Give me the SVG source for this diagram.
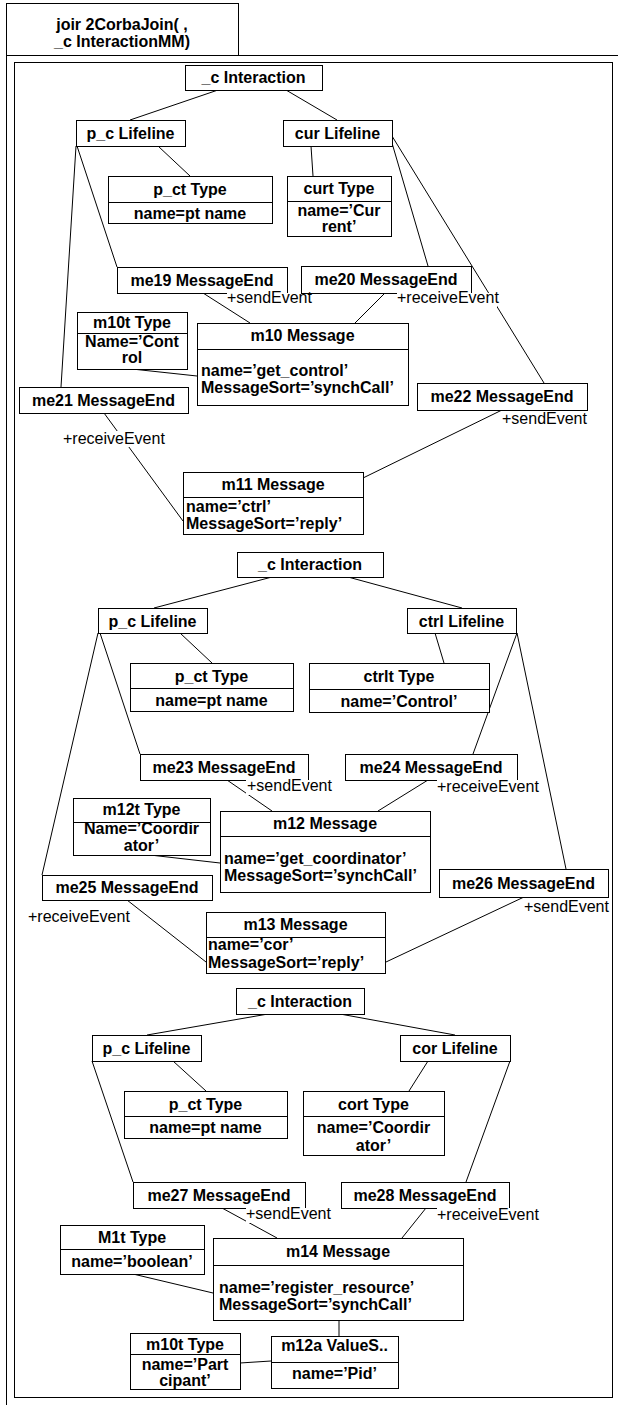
<svg xmlns="http://www.w3.org/2000/svg" width="618" height="1405" viewBox="0 0 618 1405">
<style>
.b{fill:#fff;stroke:#000;stroke-width:1}
.d{stroke:#000;stroke-width:1}
text{font-family:"Liberation Sans",Arial,sans-serif;font-size:16px;fill:#000}
.h{font-weight:bold;text-anchor:middle}
.a{font-weight:bold}
.l{font-weight:normal}
#connectors line{stroke:#000;stroke-width:1}
.bg{fill:#fff}
</style>
<rect x="0" y="0" width="618" height="1405" fill="#fff"/>
<g id="frame">
<rect x="6.5" y="55.5" width="700" height="1400" fill="none" stroke="#000"/>
<rect x="6.5" y="3.5" width="232" height="52" class="b"/>
<text class="h" x="122" y="30">joir 2CorbaJoin( ,</text>
<text class="h" x="122" y="47">_c InteractionMM)</text>
<rect x="14.5" y="62.5" width="598" height="1335" fill="none" stroke="#000"/>
</g>
<g id="connectors">
<line x1="218" y1="90" x2="130" y2="120"/>
<line x1="286" y1="90" x2="337" y2="120"/>
<line x1="158" y1="146" x2="190" y2="176"/>
<line x1="311" y1="146" x2="313" y2="176"/>
<line x1="76" y1="146" x2="61" y2="387"/>
<line x1="77" y1="146" x2="117" y2="267"/>
<line x1="392" y1="143" x2="428" y2="266"/>
<line x1="392" y1="136" x2="544" y2="383"/>
<line x1="203" y1="293" x2="250" y2="323"/>
<line x1="385" y1="293" x2="355" y2="323"/>
<line x1="132" y1="369" x2="197" y2="376"/>
<line x1="104" y1="413" x2="183" y2="521"/>
<line x1="502" y1="410" x2="363" y2="478"/>
<line x1="272" y1="577" x2="154" y2="608"/>
<line x1="348" y1="577" x2="462" y2="608"/>
<line x1="180" y1="633" x2="212" y2="663"/>
<line x1="435" y1="633" x2="444" y2="663"/>
<line x1="98" y1="633" x2="42" y2="875"/>
<line x1="100" y1="633" x2="140" y2="754"/>
<line x1="517" y1="633" x2="473" y2="754"/>
<line x1="517" y1="633" x2="566" y2="869"/>
<line x1="227" y1="780" x2="272" y2="811"/>
<line x1="428" y1="780" x2="378" y2="811"/>
<line x1="150" y1="855" x2="220" y2="863"/>
<line x1="127" y1="900" x2="206" y2="962"/>
<line x1="524" y1="897" x2="386" y2="962"/>
<line x1="268" y1="1014" x2="147" y2="1035"/>
<line x1="340" y1="1014" x2="455" y2="1035"/>
<line x1="173" y1="1061" x2="206" y2="1091"/>
<line x1="428" y1="1061" x2="409" y2="1091"/>
<line x1="92" y1="1061" x2="133" y2="1182"/>
<line x1="510" y1="1061" x2="466" y2="1182"/>
<line x1="222" y1="1208" x2="277" y2="1238"/>
<line x1="426" y1="1208" x2="402" y2="1238"/>
<line x1="133" y1="1274" x2="213" y2="1293"/>
<line x1="339" y1="1320" x2="339" y2="1336"/>
<line x1="240" y1="1363" x2="271" y2="1361"/>
</g>
<!-- Section 1 -->
<g id="int1"><rect class="b" x="185.5" y="65.5" width="137" height="25"/><text class="h" x="253.5" y="83">_c Interaction</text></g>
<g id="pc1"><rect class="b" x="76.5" y="120.5" width="109" height="26"/><text class="h" x="130.5" y="139">p_c Lifeline</text></g>
<g id="cur1"><rect class="b" x="283.5" y="120.5" width="109" height="26"/><text class="h" x="337.5" y="139">cur Lifeline</text></g>
<g id="pct1"><rect class="b" x="108.5" y="176.5" width="164" height="47"/><line class="d" x1="108.5" y1="202.5" x2="272.5" y2="202.5"/><text class="h" x="190" y="195">p_ct Type</text><text class="h" x="190" y="219">name=pt name</text></g>
<g id="curt1"><rect class="b" x="287.5" y="176.5" width="104" height="60"/><line class="d" x1="287.5" y1="201.5" x2="391.5" y2="201.5"/><text class="h" x="339" y="194">curt Type</text><text class="h" x="339" y="216">name=’Cur</text><text class="h" x="339" y="232">rent’</text></g>
<g id="me19"><rect class="b" x="117.5" y="267.5" width="170" height="26"/><text class="h" x="202" y="286">me19 MessageEnd</text></g>
<g id="me20"><rect class="b" x="301.5" y="266.5" width="170" height="27"/><text class="h" x="386" y="285">me20 MessageEnd</text></g>
<g id="m10t1"><rect class="b" x="77.5" y="312.5" width="110" height="57"/><line class="d" x1="77.5" y1="333.5" x2="187.5" y2="333.5"/><text class="h" x="132" y="328">m10t Type</text><text class="h" x="132" y="347">Name=’Cont</text><text class="h" x="132" y="363">rol</text></g>
<g id="m10"><rect class="b" x="197.5" y="323.5" width="211" height="82"/><line class="d" x1="197.5" y1="349.5" x2="408.5" y2="349.5"/><text class="h" x="302.5" y="341">m10 Message</text><text class="a" x="201" y="376">name=’get_control’</text><text class="a" x="201" y="393">MessageSort=’synchCall’</text></g>
<g id="me21"><rect class="b" x="19.5" y="387.5" width="169" height="26"/><text class="h" x="103.5" y="406">me21 MessageEnd</text></g>
<g id="me22"><rect class="b" x="417.5" y="383.5" width="170" height="27"/><text class="h" x="502" y="402">me22 MessageEnd</text></g>
<g id="m11"><rect class="b" x="183.5" y="472.5" width="180" height="62"/><line class="d" x1="183.5" y1="497.5" x2="363.5" y2="497.5"/><text class="h" x="273" y="490">m11 Message</text><text class="a" x="186" y="512">name=’ctrl’</text><text class="a" x="186" y="529">MessageSort=’reply’</text></g>
<!-- Section 2 -->
<g id="int2"><rect class="b" x="237.5" y="552.5" width="146" height="25"/><text class="h" x="310" y="570">_c Interaction</text></g>
<g id="pc2"><rect class="b" x="98.5" y="608.5" width="109" height="25"/><text class="h" x="152.5" y="627">p_c Lifeline</text></g>
<g id="ctrl2"><rect class="b" x="407.5" y="608.5" width="109" height="25"/><text class="h" x="461.5" y="627">ctrl Lifeline</text></g>
<g id="pct2"><rect class="b" x="130.5" y="663.5" width="163" height="48"/><line class="d" x1="130.5" y1="688.5" x2="293.5" y2="688.5"/><text class="h" x="211.5" y="682">p_ct Type</text><text class="h" x="211.5" y="706">name=pt name</text></g>
<g id="ctrlt2"><rect class="b" x="309.5" y="663.5" width="180" height="49"/><line class="d" x1="309.5" y1="689.5" x2="489.5" y2="689.5"/><text class="h" x="399" y="682">ctrlt Type</text><text class="h" x="399" y="707">name=’Control’</text></g>
<g id="me23"><rect class="b" x="140.5" y="754.5" width="168" height="26"/><text class="h" x="224" y="773">me23 MessageEnd</text></g>
<g id="me24"><rect class="b" x="345.5" y="754.5" width="172" height="26"/><text class="h" x="431" y="773">me24 MessageEnd</text></g>
<g id="m12t"><rect class="b" x="73.5" y="798.5" width="137" height="57"/><line class="d" x1="73.5" y1="822.5" x2="210.5" y2="822.5"/><text class="h" x="141.5" y="815">m12t Type</text><text class="h" x="141.5" y="834">Name=’Coordir</text><text class="h" x="141.5" y="851">ator’</text></g>
<g id="m12"><rect class="b" x="220.5" y="811.5" width="210" height="81"/><line class="d" x1="220.5" y1="836.5" x2="430.5" y2="836.5"/><text class="h" x="325" y="829">m12 Message</text><text class="a" x="224" y="864">name=’get_coordinator’</text><text class="a" x="224" y="881">MessageSort=’synchCall’</text></g>
<g id="me25"><rect class="b" x="42.5" y="875.5" width="170" height="25"/><text class="h" x="127" y="893">me25 MessageEnd</text></g>
<g id="me26"><rect class="b" x="439.5" y="869.5" width="169" height="28"/><text class="h" x="523.5" y="889">me26 MessageEnd</text></g>
<g id="m13"><rect class="b" x="206.5" y="912.5" width="179" height="61"/><line class="d" x1="206.5" y1="937.5" x2="385.5" y2="937.5"/><text class="h" x="295.5" y="930">m13 Message</text><text class="a" x="208" y="950">name=’cor’</text><text class="a" x="208" y="968">MessageSort=’reply’</text></g>
<!-- Section 3 -->
<g id="int3"><rect class="b" x="236.5" y="988.5" width="128" height="26"/><text class="h" x="300" y="1007">_c Interaction</text></g>
<g id="pc3"><rect class="b" x="92.5" y="1035.5" width="109" height="26"/><text class="h" x="146.5" y="1054">p_c Lifeline</text></g>
<g id="cor3"><rect class="b" x="400.5" y="1035.5" width="110" height="26"/><text class="h" x="455" y="1054">cor Lifeline</text></g>
<g id="pct3"><rect class="b" x="124.5" y="1091.5" width="163" height="47"/><line class="d" x1="124.5" y1="1116.5" x2="287.5" y2="1116.5"/><text class="h" x="205.5" y="1110">p_ct Type</text><text class="h" x="205.5" y="1133">name=pt name</text></g>
<g id="cort3"><rect class="b" x="303.5" y="1091.5" width="141" height="64"/><line class="d" x1="303.5" y1="1116.5" x2="444.5" y2="1116.5"/><text class="h" x="373.5" y="1110">cort Type</text><text class="h" x="373.5" y="1133">name=’Coordir</text><text class="h" x="373.5" y="1151">ator’</text></g>
<g id="me27"><rect class="b" x="133.5" y="1182.5" width="172" height="26"/><text class="h" x="219" y="1201">me27 MessageEnd</text></g>
<g id="me28"><rect class="b" x="341.5" y="1182.5" width="168" height="26"/><text class="h" x="425" y="1201">me28 MessageEnd</text></g>
<g id="M1t"><rect class="b" x="60.5" y="1225.5" width="144" height="49"/><line class="d" x1="60.5" y1="1249.5" x2="204.5" y2="1249.5"/><text class="h" x="132" y="1243">M1t Type</text><text class="h" x="132" y="1267">name=’boolean’</text></g>
<g id="m14"><rect class="b" x="213.5" y="1238.5" width="250" height="82"/><line class="d" x1="213.5" y1="1265.5" x2="463.5" y2="1265.5"/><text class="h" x="338" y="1257">m14 Message</text><text class="a" x="219" y="1293">name=’register_resource’</text><text class="a" x="219" y="1310">MessageSort=’synchCall’</text></g>
<g id="m10t3"><rect class="b" x="130.5" y="1333.5" width="110" height="56"/><line class="d" x1="130.5" y1="1354.5" x2="240.5" y2="1354.5"/><text class="h" x="185" y="1350">m10t Type</text><text class="h" x="185" y="1370">name=’Part</text><text class="h" x="185" y="1386">cipant’</text></g>
<g id="m12a"><rect class="b" x="271.5" y="1336.5" width="127" height="52"/><line class="d" x1="271.5" y1="1362.5" x2="398.5" y2="1362.5"/><text class="h" x="334.5" y="1351">m12a ValueS..</text><text class="h" x="334.5" y="1379">name=’Pid’</text></g>
<!-- role labels -->
<g id="labels">
<rect class="bg" x="227" y="293" width="64" height="14"/><text class="l" x="227" y="303">+sendEvent</text>
<rect class="bg" x="397" y="293" width="100" height="14"/><text class="l" x="397" y="303">+receiveEvent</text>
<rect class="bg" x="62" y="431" width="103" height="16"/><text class="l" x="63" y="444">+receiveEvent</text>
<rect class="bg" x="502" y="411" width="86" height="16"/><text class="l" x="502" y="424">+sendEvent</text>
<rect class="bg" x="246" y="780" width="64" height="15"/><text class="l" x="247" y="791">+sendEvent</text>
<rect class="bg" x="437" y="780" width="102" height="16"/><text class="l" x="437" y="792">+receiveEvent</text>
<text class="l" x="28" y="922">+receiveEvent</text>
<rect class="bg" x="524" y="898" width="86" height="18"/><text class="l" x="524" y="912">+sendEvent</text>
<rect class="bg" x="246" y="1208" width="86" height="15"/><text class="l" x="246" y="1219">+sendEvent</text>
<rect class="bg" x="437" y="1208" width="102" height="16"/><text class="l" x="437" y="1220">+receiveEvent</text>
</g>
</svg>
